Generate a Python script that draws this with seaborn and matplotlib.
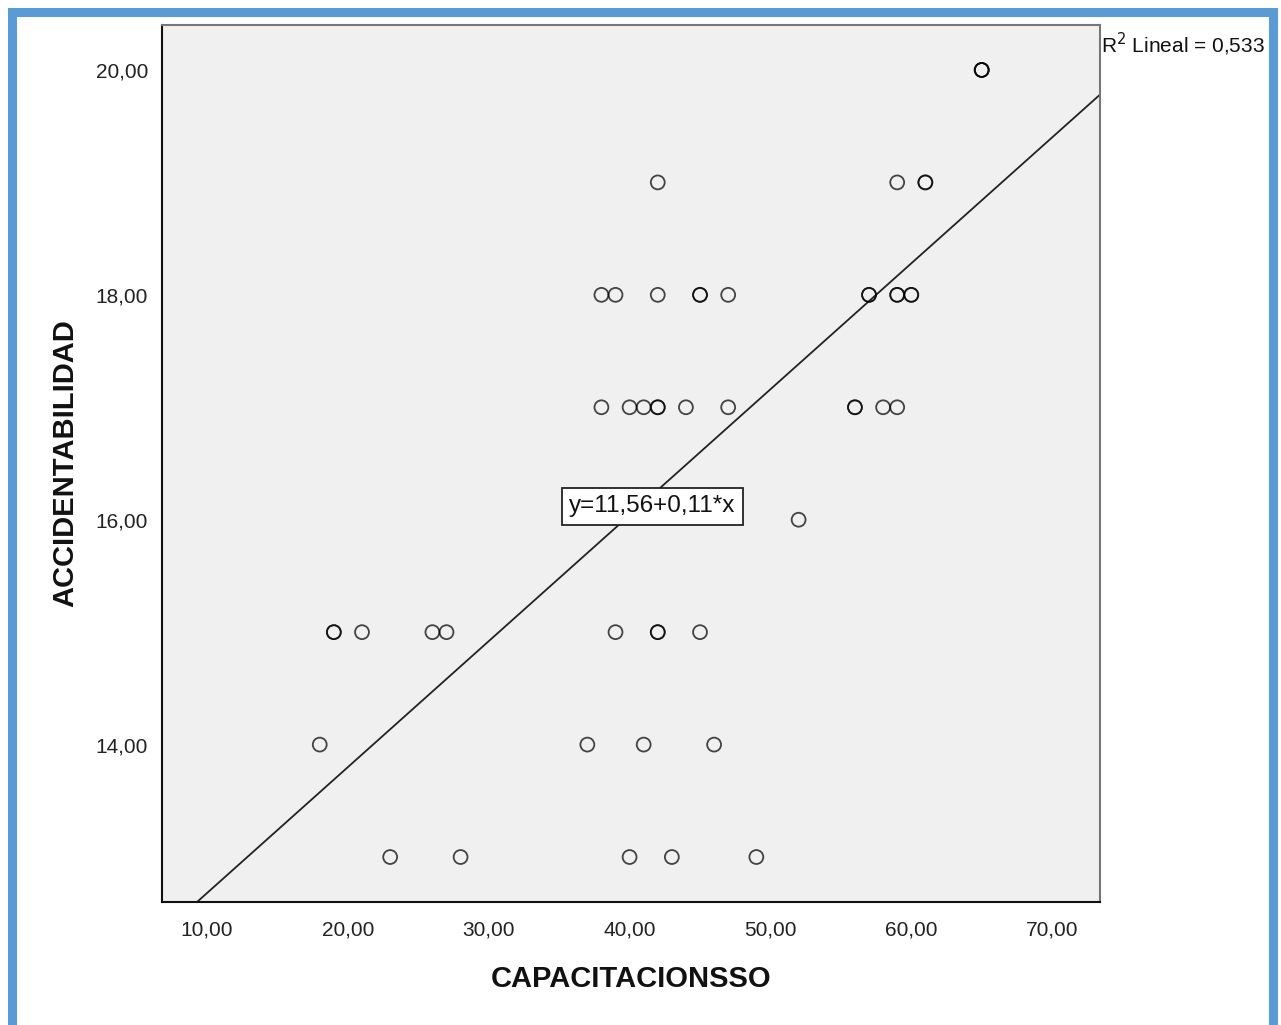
import numpy as np
import pandas as pd
import matplotlib
matplotlib.use("Agg")
import matplotlib.pyplot as plt
from matplotlib.patches import Rectangle
import seaborn as sns

# Observations (repeated pairs appear as heavier circles)
capacitacion = [65, 65, 65,
                42, 59, 61, 61,
                38, 39, 42, 45, 45, 47, 57, 57, 59, 59, 60, 60,
                38, 40, 41, 42, 42, 44, 47, 56, 56, 58, 59,
                52,
                19, 19, 21, 26, 27, 39, 42, 42, 45,
                18, 37, 41, 46,
                23, 28, 40, 43, 49]
accidentabilidad = [20, 20, 20,
                    19, 19, 19, 19,
                    18, 18, 18, 18, 18, 18, 18, 18, 18, 18, 18, 18,
                    17, 17, 17, 17, 17, 17, 17, 17, 17, 17, 17,
                    16,
                    15, 15, 15, 15, 15, 15, 15, 15, 15,
                    14, 14, 14, 14,
                    13, 13, 13, 13, 13]

# Fitted linear model
intercept = 11.56
slope = 0.112
r_squared = 0.533

x_ticks = [10, 20, 30, 40, 50, 60, 70]
y_ticks = [14, 16, 18, 20]

df = pd.DataFrame({"CAPACITACIONSSO": capacitacion,
                   "ACCIDENTABILIDAD": accidentabilidad})

sns.set_style("white")
plt.rcParams["font.family"] = ["Liberation Sans", "DejaVu Sans"]

W, H = 1281, 1025
fig = plt.figure(figsize=(W / 100, H / 100), dpi=100)
fig.patch.set_facecolor("white")

# blue frame around the figure
fig.patches.append(Rectangle((12 / W, -0.02), (1273 - 12) / W, 1.02 - 12 / H,
                             transform=fig.transFigure, fill=False,
                             edgecolor="#5B9BD5", linewidth=6.5, zorder=0))

ax = fig.add_axes([162 / W, (H - 902) / H, (1100 - 162) / W, (902 - 25) / H])
ax.set_facecolor("#F0F0F0")

xlim = (6.8, 73.4)
ylim = (12.6, 20.4)
ax.set_xlim(*xlim)
ax.set_ylim(*ylim)

sns.scatterplot(data=df, x="CAPACITACIONSSO", y="ACCIDENTABILIDAD", ax=ax,
                marker="o", s=100, facecolor="none",
                edgecolor=(0, 0, 0, 0.72), linewidth=1.3, zorder=3)

line_x = np.array(xlim)
line_y = intercept + slope * line_x
ax.plot(line_x, line_y, color="#222222", linewidth=1.3, zorder=2)
ax.set_xlim(*xlim)
ax.set_ylim(*ylim)

def fmt(v, nd=2):
    return f"{v:.{nd}f}".replace(".", ",")

ax.text(41.6, 16.12, f"y={fmt(intercept)}+{fmt(slope)}*x",
        ha="center", va="center", fontsize=17.5, color="#111111", zorder=4,
        bbox=dict(boxstyle="square,pad=0.3", facecolor="white",
                  edgecolor="#222222", linewidth=1.3))

fig.text(1101 / W, 1 - 44 / H, f"R$^2$ Lineal = {fmt(r_squared, 3)}",
         ha="left", va="center", fontsize=15, color="#111111")

ax.set_xticks(x_ticks)
ax.set_xticklabels([fmt(v) for v in x_ticks])
ax.set_yticks(y_ticks)
ax.set_yticklabels([fmt(v) for v in y_ticks])
ax.tick_params(axis="both", direction="out", length=7, width=1.5,
               color="#333333", labelsize=15, labelcolor="#222222", pad=3)
ax.tick_params(axis="x", pad=6)

for side in ["left", "bottom"]:
    ax.spines[side].set_color("#111111")
    ax.spines[side].set_linewidth(1.5)
for side in ["top", "right"]:
    ax.spines[side].set_color("#777777")
    ax.spines[side].set_linewidth(1.5)

ax.set_xlabel("CAPACITACIONSSO", fontsize=21, fontweight="bold",
              color="#111111", labelpad=19)
ax.set_ylabel("ACCIDENTABILIDAD", fontsize=21, fontweight="bold",
              color="#111111", labelpad=12)

fig.savefig("out.png", dpi=100, facecolor="white")
